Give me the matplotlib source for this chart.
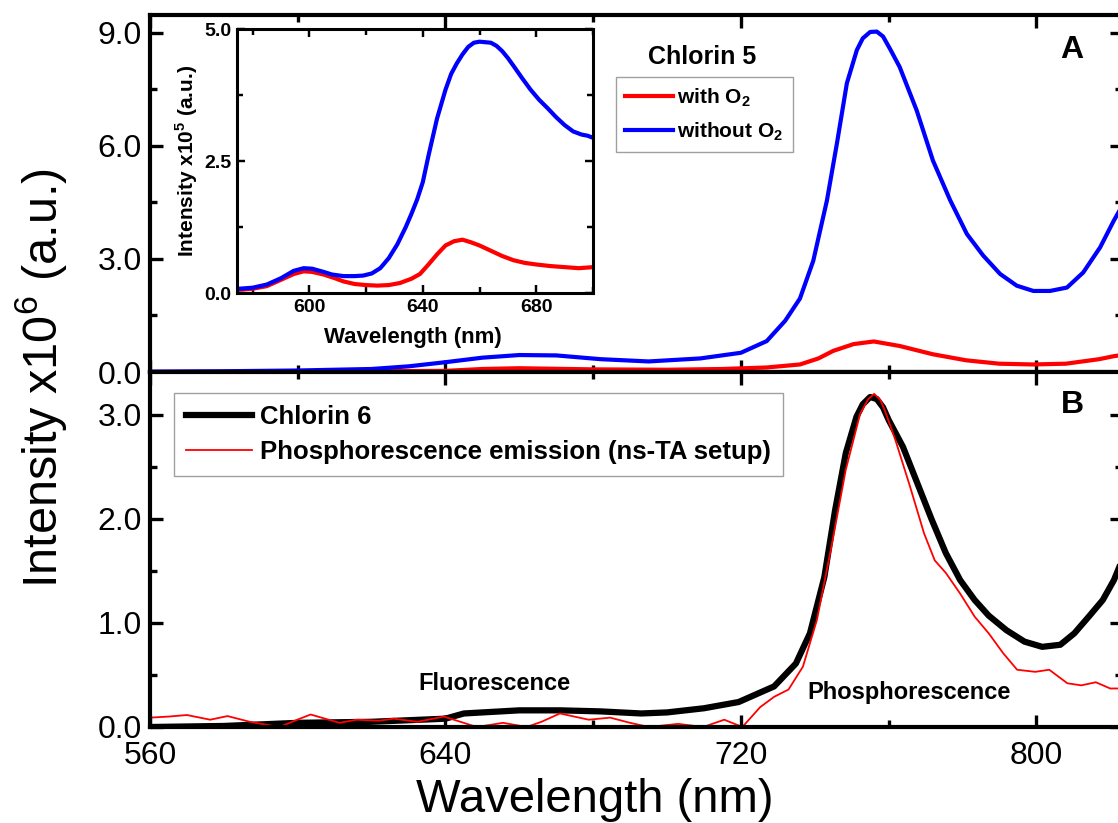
import numpy as np
import matplotlib
matplotlib.use('Agg')
import matplotlib.pyplot as plt
from matplotlib.ticker import MultipleLocator

plt.rcParams['font.family'] = ['Liberation Sans', 'DejaVu Sans']
plt.rcParams['mathtext.fontset'] = 'custom'
plt.rcParams['mathtext.rm'] = 'Liberation Sans'
plt.rcParams['mathtext.bf'] = 'Liberation Sans:bold'

# panel A : Chlorin 5 (x10^6)
wl_a_without = [560, 580, 600, 620, 630, 640, 650, 660, 670, 682, 695, 709, 720, 727, 732, 736,
                739.6, 743.3, 746, 748.7, 751.4, 753, 755, 756.8, 758.5, 760.5, 763, 767.6, 772,
                776.7, 781.2, 785.6, 790.2, 794.7, 799.2, 803.7, 808.3, 812.7, 817.3, 820.9, 823.2]
int_a_without = [0.01, 0.02, 0.04, 0.08, 0.15, 0.26, 0.38, 0.45, 0.44, 0.34, 0.28, 0.36, 0.51, 0.82,
                 1.36, 1.95, 2.95, 4.55, 6.06, 7.66, 8.54, 8.85, 9.02, 9.03, 8.9, 8.55, 8.09, 6.94,
                 5.61, 4.55, 3.66, 3.09, 2.6, 2.29, 2.15, 2.15, 2.24, 2.64, 3.31, 4.0, 4.4]
wl_a_with = [560, 600, 640, 650, 660, 680, 700, 715, 727, 736, 741, 745, 750.5, 756, 763, 772, 781,
             790, 799, 808, 817, 821, 823.2]
int_a_with = [0.0, 0.01, 0.03, 0.08, 0.1, 0.07, 0.06, 0.08, 0.12, 0.2, 0.36, 0.56, 0.74, 0.81, 0.69,
              0.47, 0.31, 0.22, 0.2, 0.22, 0.34, 0.42, 0.45]

# inset (x10^5)
wl_in_without = [575, 580, 585, 590, 594.5, 598, 601, 605, 608, 612, 616, 619, 622, 625, 628, 631,
                 634, 636, 638, 640, 642, 645, 648, 650, 652, 654, 656, 658, 660, 662, 664, 666,
                 668, 670, 672, 675, 678, 681, 684, 687, 690, 693, 696, 698, 700]
int_in_without = [0.08, 0.1, 0.16, 0.28, 0.42, 0.47, 0.46, 0.4, 0.35, 0.32, 0.32, 0.33, 0.37, 0.47,
                  0.66, 0.92, 1.25, 1.5, 1.77, 2.1, 2.6, 3.3, 3.85, 4.15, 4.35, 4.52, 4.66, 4.74,
                  4.76, 4.75, 4.74, 4.68, 4.58, 4.45, 4.3, 4.07, 3.85, 3.66, 3.5, 3.33, 3.18, 3.06,
                  3.0, 2.98, 2.94]
wl_in_with = [575, 580, 585, 590, 594.5, 598, 601, 605, 609, 612, 616, 620, 624, 628, 632, 636, 639,
              642, 645, 648, 651, 654, 657, 660, 664, 668, 672, 676, 680, 685, 690, 695, 700]
int_in_with = [0.06, 0.08, 0.13, 0.25, 0.36, 0.41, 0.4, 0.35, 0.28, 0.22, 0.17, 0.15, 0.14, 0.15,
               0.19, 0.27, 0.36, 0.54, 0.73, 0.9, 0.98, 1.01, 0.96, 0.9, 0.8, 0.7, 0.62, 0.57,
               0.54, 0.51, 0.49, 0.47, 0.49]

# panel B : Chlorin 6 (x10^6)
wl_b_chl = [560, 580, 600, 620, 640, 645, 660, 671, 682, 693, 700, 710, 719.4, 729, 734.9, 738.7,
            742.6, 745.5, 748.4, 751.3, 753, 755, 756.8, 758.5, 760, 763.9, 767.8, 771.7, 775.5,
            779.4, 783.3, 787.1, 791.9, 796.8, 801.6, 806.5, 810.3, 814.2, 818, 821, 823.2]
int_b_chl = [0.0, 0.01, 0.04, 0.05, 0.08, 0.13, 0.16, 0.16, 0.15, 0.13, 0.14, 0.18, 0.24, 0.39,
             0.61, 0.9, 1.44, 2.08, 2.63, 2.98, 3.1, 3.17, 3.15, 3.07, 2.95, 2.69, 2.34, 1.99,
             1.67, 1.41, 1.22, 1.07, 0.93, 0.82, 0.77, 0.79, 0.9, 1.06, 1.22, 1.41, 1.6]
wl_b_phos = [560, 565, 570, 576.3, 581, 587, 595, 600.6, 603.5, 611.3, 616, 622, 626, 632.4, 639.6,
             648.5, 655.6, 662, 666, 671, 678.8, 684.6, 690, 695.1, 703, 709.8, 715.5, 720.4,
             725.2, 729, 732.9, 736.8, 740.6, 744.5, 748.4, 752.3, 754.5, 756.1, 757.8, 759,
             761.9, 765.8, 769.6, 772.5, 775.5, 779.4, 783.3, 787.1, 791, 794.8, 799.7, 803.5,
             808.4, 812.2, 816.1, 820, 823.2]
int_b_phos = [0.09, 0.1, 0.115, 0.07, 0.105, 0.05, 0.0, 0.08, 0.12, 0.04, 0.07, 0.06, 0.08, 0.05,
              0.1, 0.0, 0.04, 0.0, 0.05, 0.13, 0.07, 0.09, 0.04, 0.0, 0.03, 0.0, 0.07, 0.0, 0.19,
              0.29, 0.36, 0.58, 1.03, 1.73, 2.47, 3.01, 3.15, 3.2, 3.14, 3.04, 2.75, 2.31, 1.86,
              1.6, 1.48, 1.28, 1.06, 0.9, 0.71, 0.55, 0.53, 0.55, 0.42, 0.4, 0.43, 0.37, 0.37]

W, H = 1118, 823
fig = plt.figure(figsize=(W / 100, H / 100), dpi=100)

def frame(ax, lw=3, major=9, minor=5, size=23):
    for s in ax.spines.values():
        s.set_linewidth(lw)
    ax.tick_params(which='both', direction='in', top=True, right=True, width=lw * 0.8,
                   labelsize=size, pad=6)
    ax.tick_params(which='major', length=major)
    ax.tick_params(which='minor', length=minor)

AW = 972
axA = fig.add_axes([150 / W, 1 - 372 / H, AW / W, 357 / H])
axB = fig.add_axes([150 / W, 1 - 727 / H, AW / W, 355 / H], sharex=axA)

axA.plot(wl_a_with, int_a_with, color='#ff0000', lw=3)
axA.plot(wl_a_without, int_a_without, color='#0000ff', lw=3)
axA.set_xlim(560, 823.2)
axA.set_ylim(0, 9.47)
axA.yaxis.set_major_locator(MultipleLocator(3))
axA.yaxis.set_minor_locator(MultipleLocator(1.5))
axA.xaxis.set_major_locator(MultipleLocator(80))
axA.xaxis.set_minor_locator(MultipleLocator(40))
axA.yaxis.set_major_formatter('{x:.1f}')
frame(axA)
axA.tick_params(labelbottom=False)
axA.text((1072 - 150) / AW, (372 - 50) / 357, 'A', transform=axA.transAxes, fontsize=23,
         fontweight='bold', ha='center', va='center')
axA.text((702 - 150) / AW, (372 - 57) / 357, 'Chlorin 5', transform=axA.transAxes, fontsize=18,
         fontweight='bold', ha='center', va='center')

lA1, = axA.plot([], [], color='#ff0000', lw=3, label='with O$_\\mathbf{2}$')
lA2, = axA.plot([], [], color='#0000ff', lw=3, label='without O$_\\mathbf{2}$')
legA = axA.legend(handles=[lA1, lA2], loc='upper left',
                  bbox_to_anchor=((616 - 150) / AW, 1 - (77 - 15) / 357),
                  prop={'weight': 'bold', 'size': 15}, frameon=True, fancybox=False,
                  edgecolor='#888888', handlelength=2.3, handletextpad=0.2, borderpad=0.45,
                  labelspacing=0.55, borderaxespad=0)
legA.get_frame().set_linewidth(1)

axB.plot(wl_b_chl, int_b_chl, color='black', lw=4.5, label='Chlorin 6')
axB.plot(wl_b_phos, int_b_phos, color='#ff0000', lw=1.3, label='Phosphorescence emission (ns-TA setup)')
axB.set_ylim(0, 3.41)
axB.yaxis.set_major_locator(MultipleLocator(1))
axB.yaxis.set_minor_locator(MultipleLocator(0.5))
axB.yaxis.set_major_formatter('{x:.1f}')
frame(axB)
axB.tick_params(axis='x', pad=10)
axB.text((1072 - 150) / AW, (727 - 405) / 355, 'B', transform=axB.transAxes, fontsize=23,
         fontweight='bold', ha='center', va='center')
axB.text(653.4, 0.42, 'Fluorescence', fontsize=17, fontweight='bold', ha='center', va='center')
axB.text(765.5, 0.33, 'Phosphorescence', fontsize=17, fontweight='bold', ha='center', va='center')
legB = axB.legend(loc='upper left', bbox_to_anchor=((174 - 150) / AW, 1 - (393 - 372) / 355),
                  prop={'weight': 'bold', 'size': 18.5}, frameon=True, fancybox=False,
                  edgecolor='#888888', handlelength=2.6, handletextpad=0.3, borderpad=0.45,
                  labelspacing=0.45, borderaxespad=0)
legB.get_frame().set_linewidth(1)
axB.set_xlabel('Wavelength (nm)', fontsize=34)
axB.xaxis.set_label_coords((595 - 150) / AW, -(800 - 727) / 355)
axB.xaxis.label.set_va('center')

fig.text(42 / W, 1 - 378 / H, 'Intensity x10$^{6}$ (a.u.)', fontsize=35, rotation=90,
         ha='center', va='center')

# inset
axI = fig.add_axes([237 / W, 1 - 293 / H, 356 / W, 264 / H])
axI.plot(wl_in_with, int_in_with, color='#ff0000', lw=3)
axI.plot(wl_in_without, int_in_without, color='#0000ff', lw=3)
axI.set_xlim(574.5, 700)
axI.set_ylim(0, 5)
axI.xaxis.set_major_locator(MultipleLocator(40))
axI.xaxis.set_minor_locator(MultipleLocator(20))
axI.yaxis.set_major_locator(MultipleLocator(2.5))
axI.yaxis.set_minor_locator(MultipleLocator(1.25))
axI.yaxis.set_major_formatter('{x:.1f}')
frame(axI, lw=2.2, major=6, minor=4, size=14)
axI.tick_params(pad=4)
for t in axI.get_xticklabels() + axI.get_yticklabels():
    t.set_fontweight('bold')
axI.set_xlabel('Wavelength (nm)', fontsize=16, fontweight='bold')
axI.xaxis.set_label_coords((413 - 237) / 356, -(338 - 293) / 264)
axI.xaxis.label.set_va('center')
axI.set_ylabel('Intensity x10$^\\mathbf{5}$ (a.u.)', fontsize=15, fontweight='bold', labelpad=3)

fig.savefig('out.png', dpi=100)
